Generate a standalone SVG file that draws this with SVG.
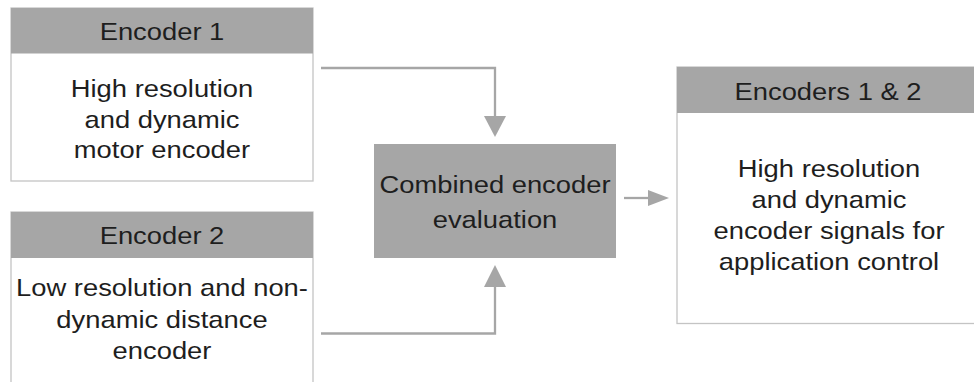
<svg xmlns="http://www.w3.org/2000/svg" width="974" height="382" viewBox="0 0 974 382">
<defs>
<style>
.box{fill:#ffffff;stroke:#c4c4c4;stroke-width:1.3}
.hdr{fill:#a6a6a6}
.t{font-family:"Liberation Sans",Arial,Helvetica,sans-serif;font-size:24px;fill:#1e1e1e;text-anchor:middle}
.con{fill:none;stroke:#a6a6a6;stroke-width:2.3}
</style>
</defs>
<rect width="974" height="382" fill="#ffffff"/>
<g id="connectors">
<path class="con" d="M321,68 H495 V118"/>
<polygon points="484,116 506,116 495,137" fill="#a6a6a6"/>
<path class="con" d="M321,333.5 H495 V285"/>
<polygon points="484,287 506,287 495,265" fill="#a6a6a6"/>
<path class="con" d="M624,198 H650"/>
<polygon points="648,190 669,198 648,206" fill="#a6a6a6"/>
</g>
<g id="encoder1">
<rect class="box" x="11" y="8" width="302" height="173"/>
<rect class="hdr" x="11" y="8" width="302" height="45.5"/>
<text class="t" transform="translate(162 39.5) scale(1.14 1)">Encoder 1</text>
<text class="t" transform="translate(162 97) scale(1.14 1)">High resolution</text>
<text class="t" transform="translate(162 127.5) scale(1.14 1)">and dynamic</text>
<text class="t" transform="translate(162 158) scale(1.14 1)">motor encoder</text>
</g>
<g id="encoder2">
<rect class="box" x="11" y="212" width="302" height="180"/>
<rect class="hdr" x="11" y="212" width="302" height="46"/>
<text class="t" transform="translate(162 243.5) scale(1.14 1)">Encoder 2</text>
<text class="t" transform="translate(162 296) scale(1.14 1)">Low resolution and non-</text>
<text class="t" transform="translate(162 327.5) scale(1.14 1)">dynamic distance</text>
<text class="t" transform="translate(162 359) scale(1.14 1)">encoder</text>
</g>
<g id="combined">
<rect class="hdr" x="374" y="144" width="242" height="114"/>
<text class="t" transform="translate(495 193) scale(1.14 1)">Combined encoder</text>
<text class="t" transform="translate(495 228) scale(1.14 1)">evaluation</text>
</g>
<g id="encoders12">
<rect class="box" x="677" y="67" width="310" height="256.5"/>
<rect class="hdr" x="677" y="67" width="310" height="46"/>
<text class="t" transform="translate(828 99.5) scale(1.14 1)">Encoders 1 &amp; 2</text>
<text class="t" transform="translate(829 177) scale(1.14 1)">High resolution</text>
<text class="t" transform="translate(829 208) scale(1.14 1)">and dynamic</text>
<text class="t" transform="translate(829 239) scale(1.14 1)">encoder signals for</text>
<text class="t" transform="translate(829 270) scale(1.14 1)">application control</text>
</g>
</svg>
